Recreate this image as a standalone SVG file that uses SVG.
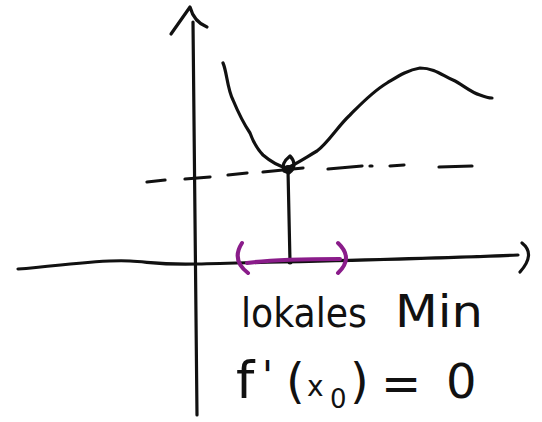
<svg xmlns="http://www.w3.org/2000/svg" width="542" height="422" viewBox="0 0 542 422">
<style>
.ink{fill:none;stroke:#111;stroke-width:3.2;stroke-linecap:round;stroke-linejoin:round}
.purple{fill:none;stroke:#8a1c8a;stroke-width:4;stroke-linecap:round;stroke-linejoin:round}
.hand{font-family:"DejaVu Sans","Liberation Sans",sans-serif;fill:#111}
</style>
<rect width="542" height="422" fill="#fff"/>
<g id="axes">
  <path class="ink" d="M193,22 C194,120 196,260 197,415"/>
  <path class="ink" d="M171,34 L190,7 Q194,22 207,27"/>
  <path class="ink" d="M18,269 C60,266 100,259 130,261 C150,262 160,265 197,264 C260,262 400,260 518,255"/>
  <path class="ink" d="M522,243 Q536,254 520,272"/>
</g>
<g id="curve">
  <path class="ink" d="M223,63 C227,72 227,88 233,100 C238,112 244,124 250,133 C254,144 258,150 263,155 C270,161 278,166 287,168 C296,164 305,158 317,151 C328,143 338,126 350,115 C360,105 372,92 387,83 C397,77 407,70 420,68 C435,68 443,76 453,80 C462,84 470,92 480,95 C485,97 489,98 492,98"/>
</g>
<g id="tangent">
  <path class="ink" d="M147,182 L165,180 M185,179 L210,177 M228,175 L247,173 M263,172 L303,168 M328,169 L362,166 M370,166 L372,166 M390,166 L404,165 M439,167 L472,166"/>
</g>
<g id="minimum">
  <path class="ink" d="M288,170 L290,262"/>
  <path class="ink" d="M284,171 C281,165 285,160 290,156 C295,161 296,168 289,173 Z"/>
  <circle cx="288" cy="169" r="4" fill="#111"/>
  <circle cx="290" cy="262" r="2.5" fill="#111"/>
</g>
<g id="interval">
  <path class="purple" d="M242,243 Q231,260 248,273"/>
  <path class="purple" d="M338,243 Q354,258 338,273"/>
  <path class="purple" d="M247,263 C275,259 310,259 340,259"/>
</g>
<g id="labels">
  <text class="hand" x="241" y="327" font-size="40" textLength="126" lengthAdjust="spacingAndGlyphs">lokales</text>
  <text class="hand" x="395" y="327" font-size="44" textLength="88" lengthAdjust="spacingAndGlyphs">Min</text>
  <text class="hand" y="398" font-size="48"><tspan x="236" font-size="52">f</tspan><tspan x="262" font-size="40" y="390">'</tspan><tspan x="286" y="398" font-size="48">(</tspan><tspan x="307" y="396" font-size="28">x</tspan><tspan x="330" y="408" font-size="26">0</tspan><tspan x="350" y="398" font-size="48">)</tspan><tspan x="381" y="400" font-size="48">=</tspan><tspan x="446" y="398" font-size="48">0</tspan></text>
</g>
</svg>
